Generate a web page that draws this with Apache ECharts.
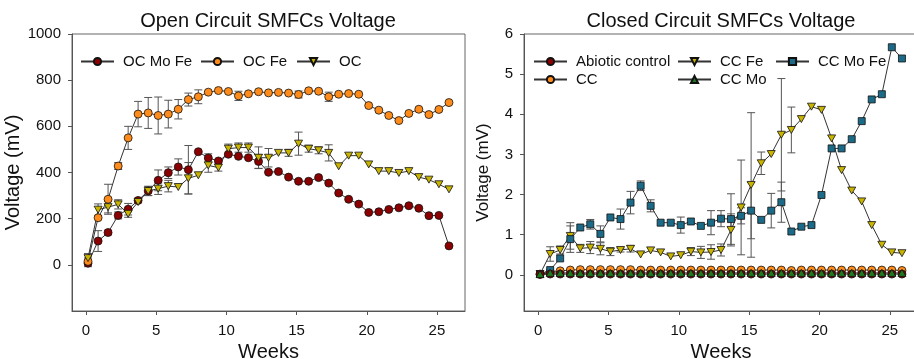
<!DOCTYPE html>
<html>
<head>
<meta charset="utf-8">
<script src="https://cdn.jsdelivr.net/npm/echarts@6/dist/echarts.min.js"></script>
<style>
  html, body { margin: 0; padding: 0; background: #fff; }
  #chart { width: 914px; height: 359px; }
</style>
</head>
<body>
<div id="chart"></div>
<script>
// sampling times (weeks), shared by both panels
var weeks = [0.14,0.86,1.57,2.29,3.0,3.71,4.43,5.14,5.86,6.57,7.29,8.0,8.71,9.43,10.14,10.86,11.57,12.29,13.0,13.71,14.43,15.14,15.86,16.57,17.29,18.0,18.71,19.43,20.14,20.86,21.57,22.29,23.0,23.71,24.43,25.14,25.86];

// open circuit (mV)
var ocMoFe = [7,103,140,214,241,279,320,366,399,424,412,490,463,450,479,470,464,448,401,404,380,362,362,378,354,311,284,263,227,230,240,247,256,245,213,214,82];
var ocMoFeErr = [15,45,10,15,25,10,20,45,25,35,105,0,18,0,0,0,0,30,0,0,0,0,0,0,0,0,0,0,0,0,0,0,0,0,0,0,0];
var ocFe = [15,204,284,428,550,653,658,647,653,674,716,728,748,755,751,732,741,750,745,747,744,738,754,752,728,739,742,739,690,670,647,625,656,674,651,673,703];
var ocFeErr = [15,0,65,15,50,55,67,80,60,42,28,30,0,0,0,20,0,0,0,0,0,15,0,0,20,0,0,0,0,0,0,0,0,0,0,0,0];
var oc = [29,239,250,262,221,272,320,330,341,337,375,388,431,421,503,508,508,464,464,485,485,525,503,496,485,427,473,473,435,406,406,398,406,380,369,349,327];
var ocErr = [20,25,25,20,15,0,20,25,25,0,68,0,30,15,20,20,20,47,40,0,15,50,15,15,35,0,0,0,0,0,0,0,0,0,0,0,0];

// closed circuit (mV)
var abiotic = [0.01,0.02,0.02,0.02,0.02,0.02,0.02,0.02,0.02,0.02,0.02,0.02,0.02,0.02,0.02,0.02,0.02,0.02,0.02,0.02,0.02,0.02,0.02,0.02,0.02,0.02,0.02,0.02,0.02,0.02,0.02,0.02,0.02,0.02,0.02,0.02,0.02];
var cc = [0.02,0.08,0.10,0.12,0.13,0.13,0.13,0.13,0.13,0.13,0.12,0.12,0.12,0.12,0.12,0.12,0.12,0.12,0.12,0.12,0.12,0.12,0.12,0.12,0.12,0.11,0.12,0.12,0.12,0.12,0.12,0.12,0.12,0.12,0.12,0.12,0.11];
var ccFe = [0.02,0.52,0.62,0.97,0.66,0.68,0.65,0.58,0.62,0.65,0.51,0.61,0.56,0.46,0.49,0.58,0.56,0.57,0.62,1.12,1.68,2.24,2.78,3.01,3.49,3.61,3.88,4.19,4.11,3.40,2.61,2.10,1.83,1.24,0.75,0.56,0.54];
var ccFeErr = [0,0.18,0.1,0.33,0.1,0.15,0.15,0.1,0.05,0.08,0,0,0,0,0,0.1,0.15,0.18,0.15,0.4,1.18,1.8,0.28,0,1.4,0.57,0,0,0,0,0,0,0,0,0,0,0];
var ccMo = [0.02,0.05,0.05,0.05,0.05,0.05,0.05,0.05,0.05,0.05,0.05,0.05,0.05,0.05,0.05,0.05,0.05,0.05,0.05,0.05,0.05,0.05,0.05,0.05,0.05,0.05,0.05,0.05,0.05,0.05,0.05,0.05,0.05,0.05,0.05,0.05,0.05];
var ccMoFe = [0.02,0.12,0.41,0.89,1.18,1.26,1.02,1.43,1.39,1.80,2.22,1.72,1.30,1.30,1.24,1.33,1.22,1.30,1.40,1.39,1.47,1.60,1.37,1.60,1.81,1.08,1.20,1.24,1.99,3.15,3.15,3.38,3.83,4.37,4.50,5.67,5.39];
var ccMoFeErr = [0,0,0,0.33,0,0.12,0.2,0,0.25,0.28,0.12,0.15,0,0,0.2,0,0,0.3,0.2,0.63,0.2,0.7,0,0.43,0.5,0,0,0,0,0,0,0,0,0,0,0,0];

var leftTicks = [0,200,400,600,800,1000];
var rightTicks = [0,1,2,3,4,5,6];
var weekTicks = [0,5,10,15,20,25];

var FONT = 'Liberation Sans, Arial, sans-serif';
var TRI_DOWN = 'path://M0,0 L10,0 L5,9 Z';

function pairs(vals){
    return weeks.map(function(w, i){ return [w, vals[i]]; });
}
function errData(vals, err){
    var out = [];
    for (var i = 0; i < weeks.length; i++) {
        if (err[i] > 0) out.push([weeks[i], vals[i] - err[i], vals[i] + err[i]]);
    }
    return out;
}
function renderErr(params, api){
    var top = api.coord([api.value(0), api.value(2)]);
    var bot = api.coord([api.value(0), api.value(1)]);
    var c = 4;
    var st = { stroke: '#555', lineWidth: 1 };
    return { type: 'group', children: [
        { type: 'line', shape: { x1: top[0], y1: top[1], x2: bot[0], y2: bot[1] }, style: st },
        { type: 'line', shape: { x1: top[0]-c, y1: top[1], x2: top[0]+c, y2: top[1] }, style: st },
        { type: 'line', shape: { x1: bot[0]-c, y1: bot[1], x2: bot[0]+c, y2: bot[1] }, style: st }
    ]};
}
function errSeries(idx, vals, err){
    return { type: 'custom', xAxisIndex: idx, yAxisIndex: idx, z: 1, silent: true,
        renderItem: renderErr, encode: { x: 0, y: [1, 2] }, data: errData(vals, err) };
}
function lineSeries(idx, name, vals, symbol, size, color){
    return { name: name, type: 'line', xAxisIndex: idx, yAxisIndex: idx, z: 3,
        data: pairs(vals), symbol: symbol, symbolSize: size, showSymbol: true,
        lineStyle: { color: '#333', width: 1 },
        itemStyle: { color: color, borderColor: '#111', borderWidth: 0.8 },
        emphasis: { disabled: true } };
}
function xAx(idx){
    return { type: 'value', gridIndex: idx, min: -1, max: 27,
        name: 'Weeks', nameLocation: 'middle', nameGap: 28,
        nameTextStyle: { fontSize: 20, color: '#111', fontFamily: FONT },
        axisLine: { show: true, onZero: false, lineStyle: { color: '#555' } },
        axisTick: { show: true, length: 4, customValues: weekTicks, lineStyle: { color: '#555' } },
        axisLabel: { customValues: weekTicks, fontSize: 15, color: '#111', fontFamily: FONT, margin: 12 },
        splitLine: { show: false } };
}
function yAx(idx, min, max, ticks, nameSize, gap){
    return { type: 'value', gridIndex: idx, min: min, max: max,
        name: 'Voltage (mV)', nameLocation: 'middle', nameGap: gap,
        nameTextStyle: { fontSize: nameSize, color: '#111', fontFamily: FONT },
        axisLine: { show: true, onZero: false, lineStyle: { color: '#555' } },
        axisTick: { show: true, length: 4, customValues: ticks, lineStyle: { color: '#555' } },
        axisLabel: { customValues: ticks, fontSize: 15, color: '#111', fontFamily: FONT, margin: 11,
            formatter: function(v){ return String(v); } },
        splitLine: { show: false } };
}
function leg(name, left, top){
    return { data: [name], left: left, top: top, padding: 0, itemWidth: 33, itemHeight: 9,
        textStyle: { fontSize: 15, color: '#111', fontFamily: FONT, padding: [0, 0, 0, 4] } };
}

var myChart = echarts.init(document.getElementById('chart'));
var option = {
    animation: false,
    backgroundColor: '#fff',
    title: [
        { text: 'Open Circuit SMFCs Voltage', left: 268, top: 11, textAlign: 'center', padding: 0,
          textStyle: { fontSize: 20, fontWeight: 'normal', color: '#111', fontFamily: FONT } },
        { text: 'Closed Circuit SMFCs Voltage', left: 721, top: 11, textAlign: 'center', padding: 0,
          textStyle: { fontSize: 20, fontWeight: 'normal', color: '#111', fontFamily: FONT } }
    ],
    legend: [
        leg('OC Mo Fe', 80, 54), leg('OC Fe', 200, 54), leg('OC', 296, 54),
        leg('Abiotic control', 533, 54), leg('CC', 533, 72),
        leg('CC Fe', 677, 54), leg('CC Mo', 677, 72), leg('CC Mo Fe', 775, 54)
    ],
    grid: [
        { left: 72, top: 34, width: 393, height: 277, outerBoundsMode: 'none', containLabel: false,
          show: true, borderColor: '#666', borderWidth: 1, backgroundColor: 'transparent' },
        { left: 524, top: 34, width: 394, height: 277, outerBoundsMode: 'none', containLabel: false,
          show: true, borderColor: '#666', borderWidth: 1, backgroundColor: 'transparent' }
    ],
    xAxis: [ xAx(0), xAx(1) ],
    yAxis: [ yAx(0, -200, 1000, leftTicks, 20, 37), yAx(1, -0.9, 6, rightTicks, 17, 32) ],
    series: [
        errSeries(0, ocMoFe, ocMoFeErr),
        errSeries(0, ocFe, ocFeErr),
        errSeries(0, oc, ocErr),
        lineSeries(0, 'OC Mo Fe', ocMoFe, 'circle', 8, '#8B0000'),
        lineSeries(0, 'OC Fe', ocFe, 'circle', 8, '#FF8C1A'),
        lineSeries(0, 'OC', oc, TRI_DOWN, [8, 7], '#C9B400'),

        errSeries(1, ccFe, ccFeErr),
        errSeries(1, ccMoFe, ccMoFeErr),
        lineSeries(1, 'CC', cc, 'circle', 8, '#FF8C1A'),
        lineSeries(1, 'CC Fe', ccFe, TRI_DOWN, [8, 7], '#C9B400'),
        lineSeries(1, 'CC Mo Fe', ccMoFe, 'rect', 7, '#1B6A87'),
        lineSeries(1, 'Abiotic control', abiotic, 'circle', 8, '#8B0000'),
        lineSeries(1, 'CC Mo', ccMo, 'triangle', [8, 7], '#1E7A1E')
    ]
};
myChart.setOption(option);
</script>
</body>
</html>
